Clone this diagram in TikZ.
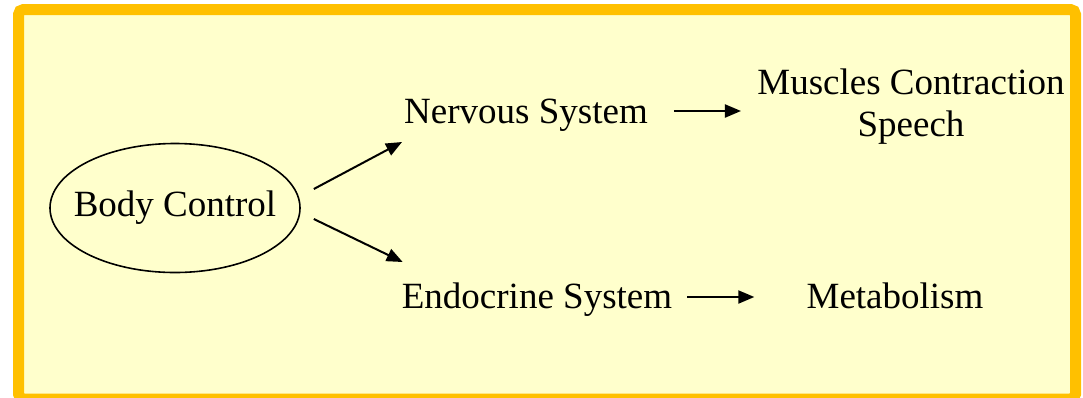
\documentclass[tikz,border=0pt]{standalone}
\usepackage{fontspec}
\setmainfont{Liberation Serif}
\usetikzlibrary{shapes.geometric, arrows.meta, positioning}

\definecolor{panelfill}{HTML}{FFFFCC}
\definecolor{panelrim}{HTML}{FFC000}

\begin{document}
\begin{tikzpicture}[x=1pt, y=-1pt,
lbl/.style={inner sep=0, font=\fontsize{37}{42}\selectfont},
arr/.style={line width=2pt, -{Triangle[length=16pt, width=13pt]}}]

\useasboundingbox (0,0) rectangle (1083,397);
\clip (0,0) rectangle (1083,397);
\draw[panelrim, fill=panelfill, line width=11pt, rounded corners=5pt] (18.5,9.5) rectangle (1075.5,399);

\node[lbl, draw, line width=1.6pt, ellipse, inner xsep=-14pt, minimum width=250pt, minimum height=129pt] (body) at (175,208) {Body Control};
\node[lbl, anchor=base] (nervous) at (526,123) {Nervous System};
\node[lbl, anchor=base, align=center] (muscles) at (911,136) {Muscles Contraction\\Speech};
\node[lbl, anchor=base] (endo) at (537,308) {Endocrine System};
\node[lbl, anchor=base] (meta) at (895,308) {Metabolism};

\draw[arr] ([shift={(13,-19)}]body.east) -- ([shift={(-2,19)}]nervous.base west);
\draw[arr] ([shift={(13,11)}]body.east) -- ([shift={(1,-46)}]endo.base west);
\draw[arr] ([shift={(26,-12)}]nervous.base east) -- ++(67,0);
\draw[arr] ([shift={(15,-11)}]endo.base east) -- ++(67,0);

\end{tikzpicture}
\end{document}
